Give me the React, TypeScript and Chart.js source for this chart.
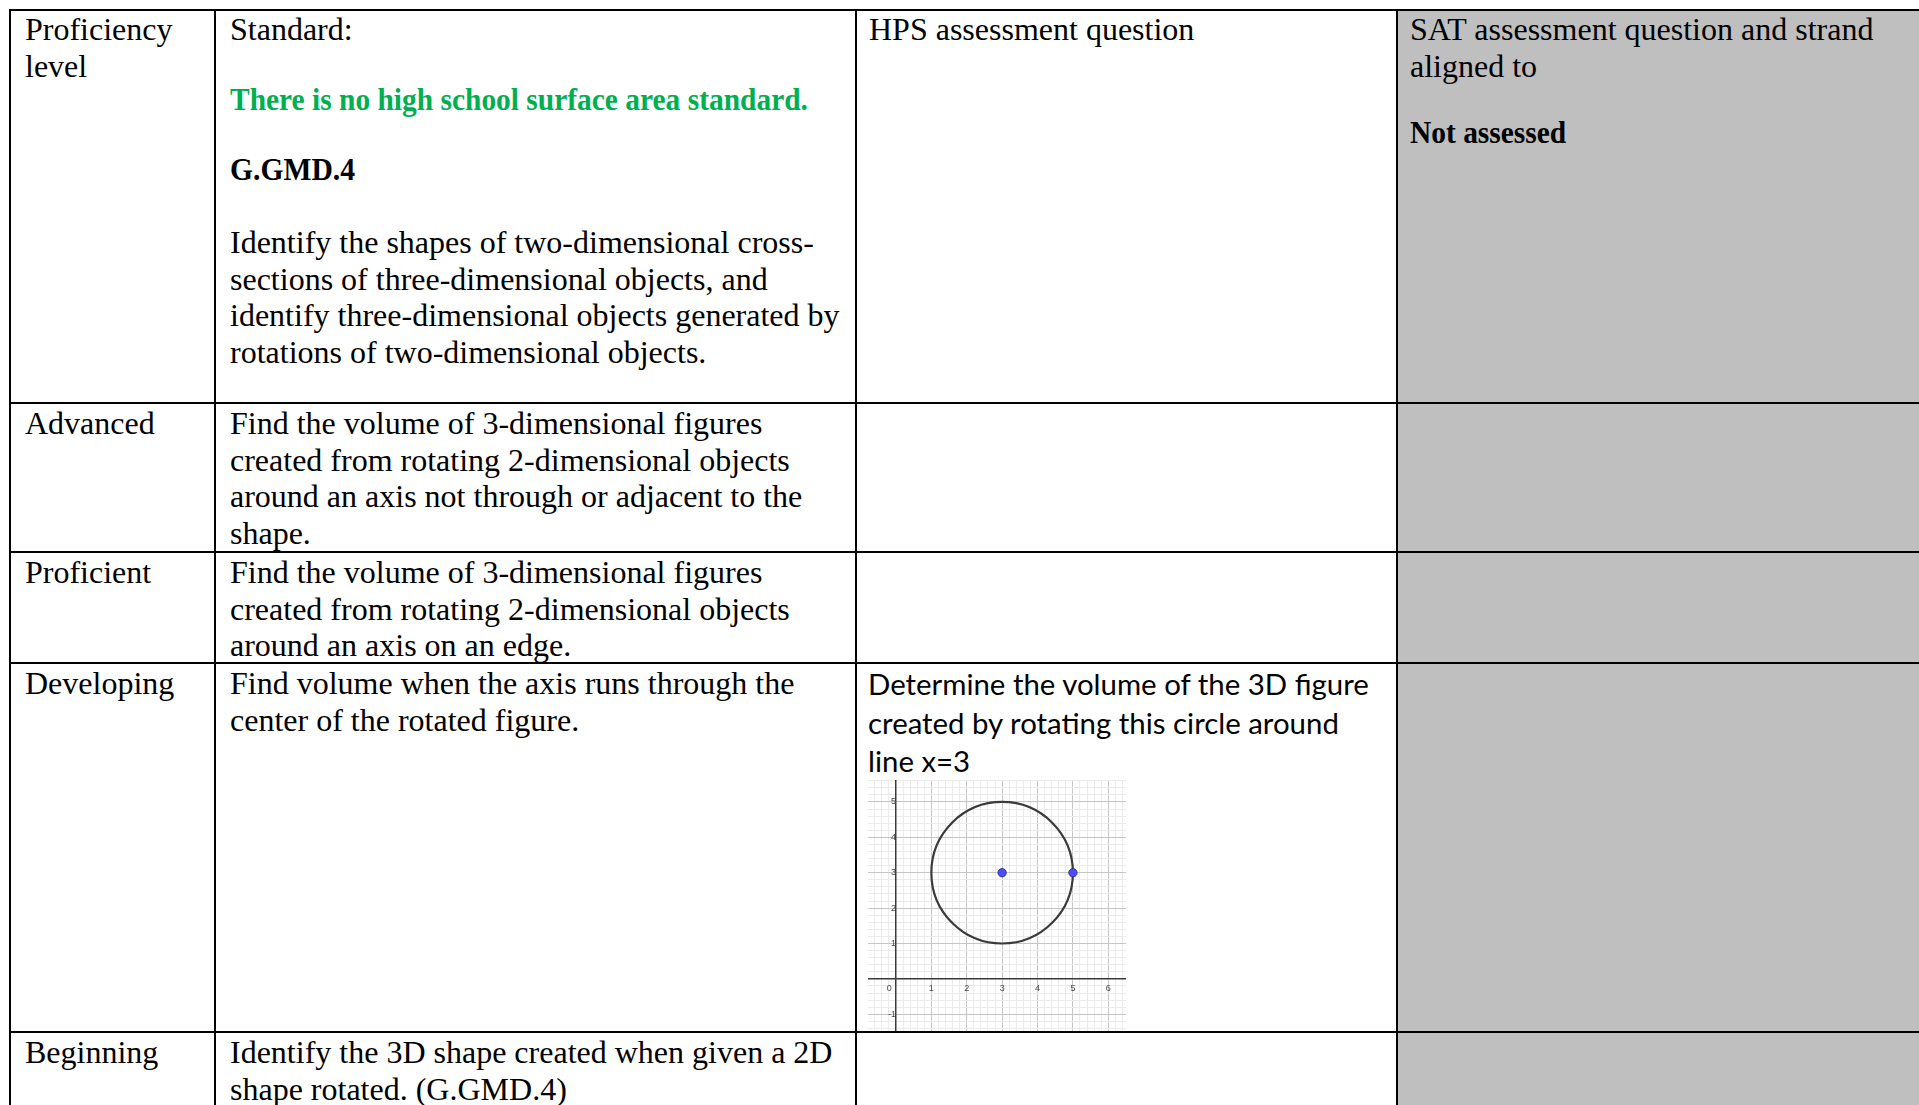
import React, { useEffect, useRef } from "react";
import { Chart, registerables } from "chart.js";

Chart.register(...registerables);

// ---------- chart data (GeoGebra-style graph) ----------
const pointXs = [3, 5];
const pointYs = [3, 3];
// quadrant points of the circle centred at (3,3) with radius 2 (ends repeated to close the loop smoothly)
const circleXs = [3, 1, 3, 5, 3, 1, 3];
const circleYs = [1, 3, 5, 3, 1, 3, 5];
const xRange = [-0.79, 6.5];
const yRange = [-1.5, 5.62];
const xTickLabels = ["0", "1", "2", "3", "4", "5", "6"];
const yTickLabels = ["-1", "1", "2", "3", "4", "5"];

// ---------- table content ----------
const levels = ["Advanced", "Proficient", "Developing", "Beginning"];
const standardsText = [
  [
    "Find the volume of 3-dimensional figures",
    "created from rotating 2-dimensional objects",
    "around an axis not through or adjacent to the",
    "shape.",
  ],
  [
    "Find the volume of 3-dimensional figures",
    "created from rotating 2-dimensional objects",
    "around an axis on an edge.",
  ],
  ["Find volume when the axis runs through the", "center of the rotated figure."],
  ["Identify the 3D shape created when given a 2D", "shape rotated. (G.GMD.4)"],
];
const questionLines = [
  "Determine the volume of the 3D figure",
  "created by rotating this circle around",
  "line x=3",
];

const SERIF = "'Liberation Serif', 'Times New Roman', Times, serif";
const SANS = "Lato, 'Open Sans', sans-serif";

function isInt(v: number) {
  return Math.abs(v - Math.round(v)) < 1e-6;
}

const PAD = 14;
const GW = 258;
const GH = 252;

function Graph() {
  const ref = useRef<HTMLCanvasElement | null>(null);
  useEffect(() => {
    if (!ref.current) return;
    const circleData = circleXs.map((x, i) => ({ x, y: circleYs[i] }));
    const pointData = pointXs.map((x, i) => ({ x, y: pointYs[i] }));
    const gridColor = (ctx: any) =>
      ctx.tick && isInt(ctx.tick.value) ? "#c6c6c6" : "#ebebeb";
    const tickFont = { size: 9, family: "'Liberation Sans', Arial, sans-serif" };
    const chart = new Chart(ref.current, {
      type: "line",
      data: {
        datasets: [
          {
            data: pointData,
            showLine: false,
            pointRadius: 4.2,
            pointBackgroundColor: "#4d4dff",
            pointBorderColor: "#24247a",
            pointBorderWidth: 0.8,
          },
          {
            data: circleData,
            borderColor: "#3a3a3a",
            borderWidth: 2.2,
            pointRadius: 0,
            tension: 0.5523,
            fill: false,
            segment: {
              borderColor: (ctx: any) =>
                ctx.p0DataIndex === 0 || ctx.p0DataIndex === circleXs.length - 2
                  ? "rgba(0,0,0,0)"
                  : undefined,
            },
          },
        ],
      },
      options: {
        animation: false,
        responsive: false,
        devicePixelRatio: 1,
        layout: { padding: PAD },
        plugins: { legend: { display: false }, tooltip: { enabled: false } },
        events: [],
        scales: {
          x: {
            type: "linear",
            min: xRange[0],
            max: xRange[1],
            position: { y: 0 } as any,
            ticks: {
              stepSize: 0.2,
              includeBounds: false,
              autoSkip: false,
              maxRotation: 0,
              minRotation: 0,
              padding: 4,
              color: "#4a4a4a",
              font: tickFont,
              callback: (v: any) => {
                const n = Number(v);
                if (!isInt(n)) return "";
                const s = String(Math.round(n));
                if (!xTickLabels.includes(s)) return "";
                return s === "0" ? "0\u2002\u2002\u2002" : s;
              },
            },
            grid: { color: gridColor, lineWidth: 1, drawTicks: false },
            border: { display: true, color: "#3a3a3a", width: 1.5 },
          },
          y: {
            type: "linear",
            min: yRange[0],
            max: yRange[1],
            position: { x: 0 } as any,
            ticks: {
              stepSize: 0.2,
              includeBounds: false,
              autoSkip: false,
              padding: 4,
              color: "#4a4a4a",
              font: tickFont,
              callback: (v: any) => {
                const n = Number(v);
                if (!isInt(n)) return "";
                const s = String(Math.round(n));
                return yTickLabels.includes(s) ? s : "";
              },
            },
            grid: { color: gridColor, lineWidth: 1, drawTicks: false },
            border: { display: true, color: "#3a3a3a", width: 1.5 },
          },
        },
      },
    } as any);
    return () => chart.destroy();
  }, []);
  return (
    <div
      style={{
        position: "absolute",
        left: 868,
        top: 780,
        width: GW,
        height: GH,
        overflow: "hidden",
      }}
    >
      <canvas
        ref={ref}
        width={GW + 2 * PAD}
        height={GH + 2 * PAD}
        style={{
          position: "absolute",
          left: -PAD,
          top: -PAD,
          width: GW + 2 * PAD,
          height: GH + 2 * PAD,
        }}
      />
    </div>
  );
}

function Lines({
  x,
  y,
  lines,
  style,
  squeeze,
}: {
  x: number;
  y: number;
  lines: string[];
  style?: any;
  squeeze?: number;
}) {
  return (
    <div
      style={{
        position: "absolute",
        left: x,
        top: y,
        fontFamily: SERIF,
        fontSize: 32,
        lineHeight: "36.7px",
        color: "#000",
        whiteSpace: "nowrap",
        transform: squeeze ? `scaleX(${squeeze})` : undefined,
        transformOrigin: "0 0",
        ...style,
      }}
    >
      {lines.map((l, i) => (
        <div key={i}>{l}</div>
      ))}
    </div>
  );
}

const rowTops = [10, 403, 552, 663, 1032];
const colLefts = [10, 215, 856, 1397];

export default function App() {
  const hLines = rowTops.map((y, i) => (
    <div
      key={"h" + i}
      style={{ position: "absolute", left: 9, top: y - 1, width: 1920, height: 2, background: "#000", zIndex: 5 }}
    />
  ));
  const vLines = colLefts.map((x, i) => (
    <div
      key={"v" + i}
      style={{ position: "absolute", left: x - 1, top: 9, width: 2, height: 1110, background: "#000", zIndex: 5 }}
    />
  ));
  return (
    <div
      style={{
        position: "fixed",
        left: 0,
        top: 0,
        width: 1919,
        height: 1105,
        overflow: "hidden",
        background: "#fff",
      }}
    >
      <div style={{ position: "absolute", left: 1397, top: 10, width: 530, height: 1100, background: "#bfbfbf" }} />

      {/* header row */}
      <Lines x={25} y={11} lines={["Proficiency", "level"]} />
      <Lines x={230} y={11} lines={["Standard:"]} />
      <Lines
        x={230}
        y={81}
        lines={["There is no high school surface area standard."]}
        style={{ color: "#00b050", fontWeight: "bold" }}
        squeeze={0.92}
      />
      <Lines x={230} y={151} lines={["G.GMD.4"]} style={{ fontWeight: "bold" }} squeeze={0.925} />
      <Lines
        x={230}
        y={224}
        lines={[
          "Identify the shapes of two-dimensional cross-",
          "sections of three-dimensional objects, and",
          "identify three-dimensional objects generated by",
          "rotations of two-dimensional objects.",
        ]}
      />
      <Lines x={869} y={11} lines={["HPS assessment question"]} />
      <Lines x={1410} y={11} lines={["SAT assessment question and strand", "aligned to"]} />
      <Lines x={1410} y={114} lines={["Not assessed"]} style={{ fontWeight: "bold" }} squeeze={0.92} />

      {/* level rows */}
      {levels.map((lv, i) => (
        <React.Fragment key={lv}>
          <Lines x={25} y={rowTops[i + 1] + 2} lines={[lv]} />
          <Lines x={230} y={rowTops[i + 1] + 2} lines={standardsText[i]} />
        </React.Fragment>
      ))}

      <div
        style={{
          position: "absolute",
          left: 868,
          top: 665,
          fontFamily: SANS,
          fontSize: 29.4,
          lineHeight: "38.6px",
          color: "#000",
          whiteSpace: "nowrap",
        }}
      >
        {questionLines.map((l, i) => (
          <div key={i}>{l}</div>
        ))}
      </div>

      <Graph />
      {hLines}
      {vLines}
    </div>
  );
}
